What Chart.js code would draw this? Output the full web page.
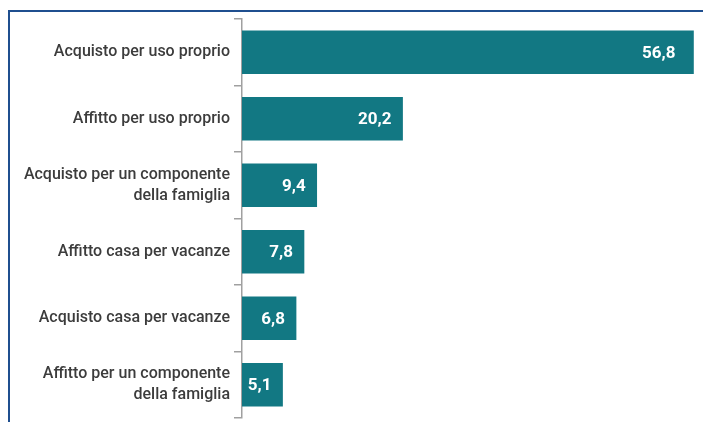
<!DOCTYPE html>
<html>
<head>
<meta charset="utf-8">
<script src="https://cdn.jsdelivr.net/npm/chart.js@4"></script>
<style>
  html, body { margin: 0; padding: 0; background: #fff; }
  #wrap { position: relative; width: 703px; height: 422px; }
  #frame { position: absolute; left: 8px; top: 10px; right: 0; bottom: 0;
           border-left: 2px solid #1f4f8f; border-top: 2px solid #1f4f8f; }
  canvas { position: absolute; left: 0; top: 0; }
</style>
</head>
<body>
<div id="wrap">
  <div id="frame"></div>
  <canvas id="chart" width="703" height="422"></canvas>
</div>
<script>
const categories = [
  'Acquisto per uso proprio',
  'Affitto per uso proprio',
  ['Acquisto per un componente', 'della famiglia'],
  'Affitto casa per vacanze',
  'Acquisto casa per vacanze',
  ['Affitto per un componente', 'della famiglia']
];
const values = [56.8, 20.2, 9.4, 7.8, 6.8, 5.1];

const barColor = '#127883';
const labelFont = '"Roboto", sans-serif';

// white value labels inside the end of each bar
const valueLabels = {
  id: 'valueLabels',
  afterDatasetsDraw(chart) {
    const ctx = chart.ctx;
    const meta = chart.getDatasetMeta(0);
    ctx.save();
    ctx.fillStyle = '#ffffff';
    ctx.font = 'bold 17px ' + labelFont;
    ctx.textAlign = 'right';
    ctx.textBaseline = 'middle';
    meta.data.forEach((bar, i) => {
      const txt = values[i].toFixed(1).replace('.', ',');
      const pad = i === 0 ? 18 : 11;
      ctx.fillText(txt, bar.x - pad, bar.y + 1);
    });
    ctx.restore();
  }
};

new Chart(document.getElementById('chart'), {
  type: 'bar',
  data: {
    labels: categories,
    datasets: [{
      data: values,
      backgroundColor: barColor,
      barThickness: 43,
      borderWidth: 0
    }]
  },
  options: {
    indexAxis: 'y',
    responsive: false,
    animation: false,
    layout: { padding: { top: 19, bottom: 4, left: 0, right: 0 } },
    plugins: {
      legend: { display: false },
      tooltip: { enabled: false }
    },
    scales: {
      x: {
        display: false,
        min: 0,
        max: 58
      },
      y: {
        offset: true,
        afterFit(scale) {
          scale.width = 242;
          scale.paddingTop = 0;
          scale.paddingBottom = 0;
        },
        border: { display: true, color: '#a0a0a0', width: 1.5 },
        grid: {
          offset: true,
          drawOnChartArea: false,
          drawTicks: true,
          tickLength: 8,
          color: '#a0a0a0',
          lineWidth: 1.5
        },
        ticks: {
          padding: 4,
          color: '#3c3c3c',
          font: { family: labelFont, size: 16, weight: '500', lineHeight: 1.3 }
        }
      }
    }
  },
  plugins: [valueLabels]
});
</script>
</body>
</html>
